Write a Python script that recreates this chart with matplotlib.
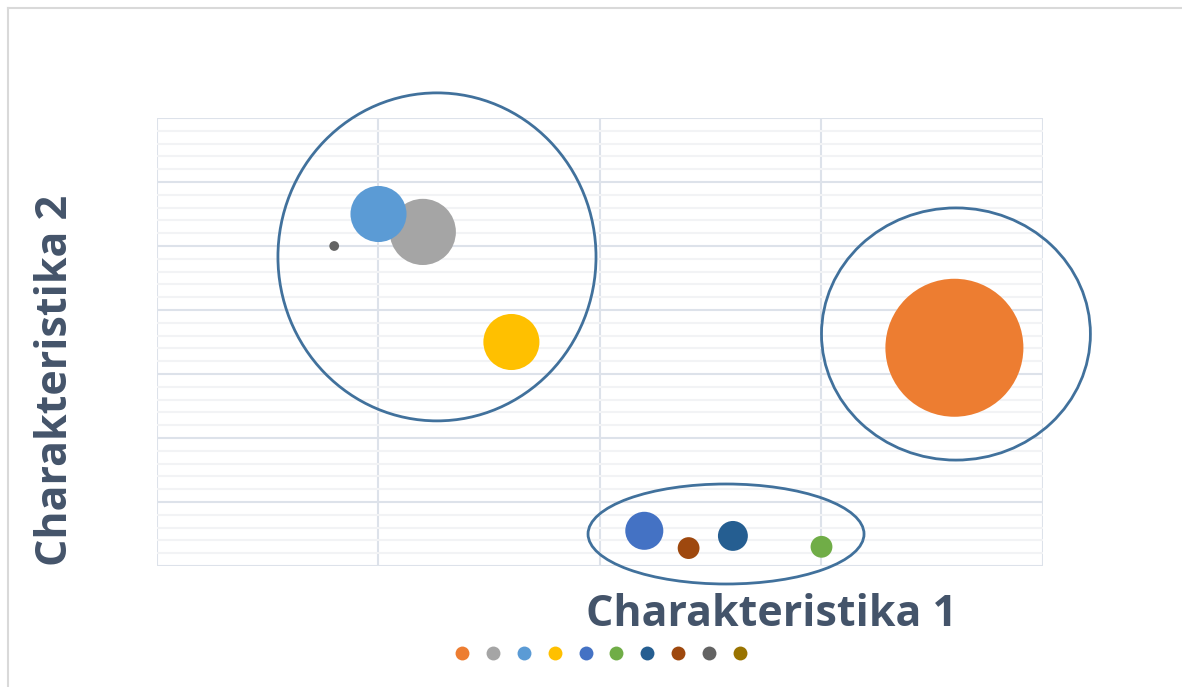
import matplotlib
matplotlib.use('Agg')
import matplotlib.pyplot as plt
from matplotlib.patches import Ellipse
from matplotlib.lines import Line2D

# bubble data (x, y, relative bubble size)
x_vals = [3.60, 1.20, 1.00, 1.60, 2.20, 3.00, 2.60, 2.40, 0.80, 2.00]
y_vals = [3.41, 5.22, 5.50, 3.50, 0.55, 0.30, 0.47, 0.28, 5.00, 0.00]
sizes = [100, 23, 16.5, 16.5, 7.6, 2.5, 4.7, 2.5, 0.5, 0]
colors = ['#ED7D31', '#A5A5A5', '#5B9BD5', '#FFC000', '#4472C4',
          '#70AD47', '#255E91', '#9E480E', '#636363', '#997300']

# cluster ellipses: center x, center y, width, height (data units)
clusters = [(1.264, 4.83, 1.436, 5.125),
            (3.607, 3.625, 1.214, 3.94),
            (2.569, 0.50, 1.246, 1.5625)]

xlabel = 'Charakteristika 1'
ylabel = 'Charakteristika 2'
text_col = '#44546A'

fig = plt.figure(figsize=(11.82, 6.87), dpi=100)
ax = fig.add_axes([157/1182, 1 - 566/687, (1043-157)/1182, (566-118)/687])

ax.set_xlim(0, 4)
ax.set_ylim(0, 7)
ax.set_xticks([0, 1, 2, 3, 4])
ax.set_yticks(range(8))
ax.set_yticks([i / 5 for i in range(36)], minor=True)
ax.tick_params(which='both', length=0, labelleft=False, labelbottom=False)
ax.grid(which='major', color='#DDE2EA', lw=1.5)
ax.grid(which='minor', axis='y', color='#F2F3F5', lw=1.5)
ax.set_axisbelow(True)
for sp in ax.spines.values():
    sp.set_visible(False)

max_r_pt = 69 * 0.72
s_vals = [(v / 100) * (2 * max_r_pt) ** 2 for v in sizes]
ax.scatter(x_vals, y_vals, s=s_vals, c=colors, edgecolors='none', zorder=3, clip_on=False)

for cx, cy, w, h in clusters:
    ax.add_patch(Ellipse((cx, cy), w, h, fill=False, ec='#41719C', lw=2,
                         clip_on=False, zorder=4))

fig.text(772/1182, 1 - 615/687, xlabel, fontsize=31, fontweight='bold',
         family='Open Sans', color=text_col, ha='center', va='center')
fig.text(56/1182, 1 - 380/687, ylabel, fontsize=31, fontweight='bold',
         family='Open Sans', color=text_col, ha='center', va='center', rotation=90)

handles = [Line2D([], [], ls='none', marker='o', ms=10, mfc=c, mec='none') for c in colors]
fig.legend(handles, [''] * len(colors), ncol=len(colors), loc='center',
           bbox_to_anchor=(601/1182, 1 - 654/687), frameon=False, fontsize=10,
           handlelength=1, handletextpad=0, columnspacing=1.23)

# chart area border (top/left edges visible)
fig.add_artist(Line2D([8/1182, 1], [1 - 8/687, 1 - 8/687], color='#D9D9D9', lw=1.5))
fig.add_artist(Line2D([8/1182, 8/1182], [0, 1 - 8/687], color='#D9D9D9', lw=1.5))

fig.savefig('out.png', dpi=100)
